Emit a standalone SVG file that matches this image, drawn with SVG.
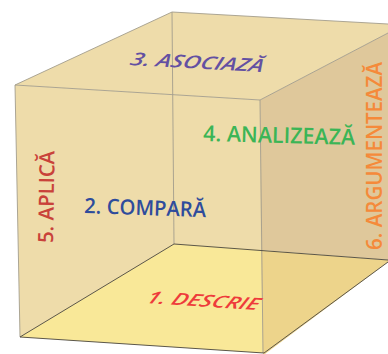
<svg xmlns="http://www.w3.org/2000/svg" width="388" height="354" viewBox="0 0 388 354">
<style>
.edge{fill:none;stroke:#a39d8c;stroke-width:0.9}
.edgeD{fill:none;stroke:#4a4640;stroke-width:0.9}
.lbl{font-family:"Open Sans","Noto Sans","DejaVu Sans",sans-serif}
</style>
<rect width="388" height="354" fill="#ffffff"/>
<g id="faces">
<polygon points="172,12 388,24 388,33 260,100 15,85" fill="#eedcaa"/>
<polygon points="15,85 260,100 263,353 20,337" fill="#eedcaa"/>
<polygon points="174,244 261,250 263,353 20,337" fill="#f9e898"/>
<polygon points="260,100 388,33 388,260 261,250" fill="#dfc89b"/>
<polygon points="261,250 388,260 388,262 265,354 263,354" fill="#edd48b"/>
</g>
<g id="edges">
<polyline class="edge" points="15,85 172,12 388,24"/>
<line class="edge" x1="172" y1="12" x2="174" y2="244"/>
<line class="edge" x1="15" y1="85" x2="260" y2="100"/>
<line class="edge" x1="260" y1="100" x2="388" y2="33"/>
<line class="edge" x1="260" y1="100" x2="263" y2="353"/>
<line class="edge" x1="15" y1="85" x2="20" y2="337"/>
<polyline class="edgeD" points="20,337 174,244 388,260"/>
<polyline class="edgeD" points="20,337 264,353 388,262"/>
</g>
<g id="label-3">
<text class="lbl" transform="translate(129,65) rotate(3) skewX(-16)" font-size="18" font-style="italic" font-weight="600" fill="#6350a2" textLength="133" lengthAdjust="spacingAndGlyphs">3. ASOCIAZĂ</text>
</g>
<g id="label-4">
<text class="lbl" transform="translate(203,141) rotate(1.5)" font-size="22" font-weight="600" fill="#3bb556" textLength="152" lengthAdjust="spacingAndGlyphs">4. ANALIZEAZĂ</text>
</g>
<g id="label-2">
<text class="lbl" transform="translate(84,213) rotate(2)" font-size="21" font-weight="600" fill="#2e4c9c" textLength="122" lengthAdjust="spacingAndGlyphs">2. COMPARĂ</text>
</g>
<g id="label-5">
<text class="lbl" transform="translate(53,243) rotate(-89)" font-size="21" font-weight="600" fill="#c9423a" textLength="92" lengthAdjust="spacingAndGlyphs">5. APLICĂ</text>
</g>
<g id="label-6">
<text class="lbl" transform="translate(382,250) rotate(-90)" font-size="21" font-weight="600" fill="#f58a3a" textLength="188" lengthAdjust="spacingAndGlyphs">6. ARGUMENTEAZĂ</text>
</g>
<g id="label-1">
<text class="lbl" transform="translate(145,303) rotate(3.6) skewX(-22)" font-size="17" font-style="italic" font-weight="600" fill="#ee3b3b" textLength="112" lengthAdjust="spacingAndGlyphs">1. DESCRIE</text>
</g>
</svg>
